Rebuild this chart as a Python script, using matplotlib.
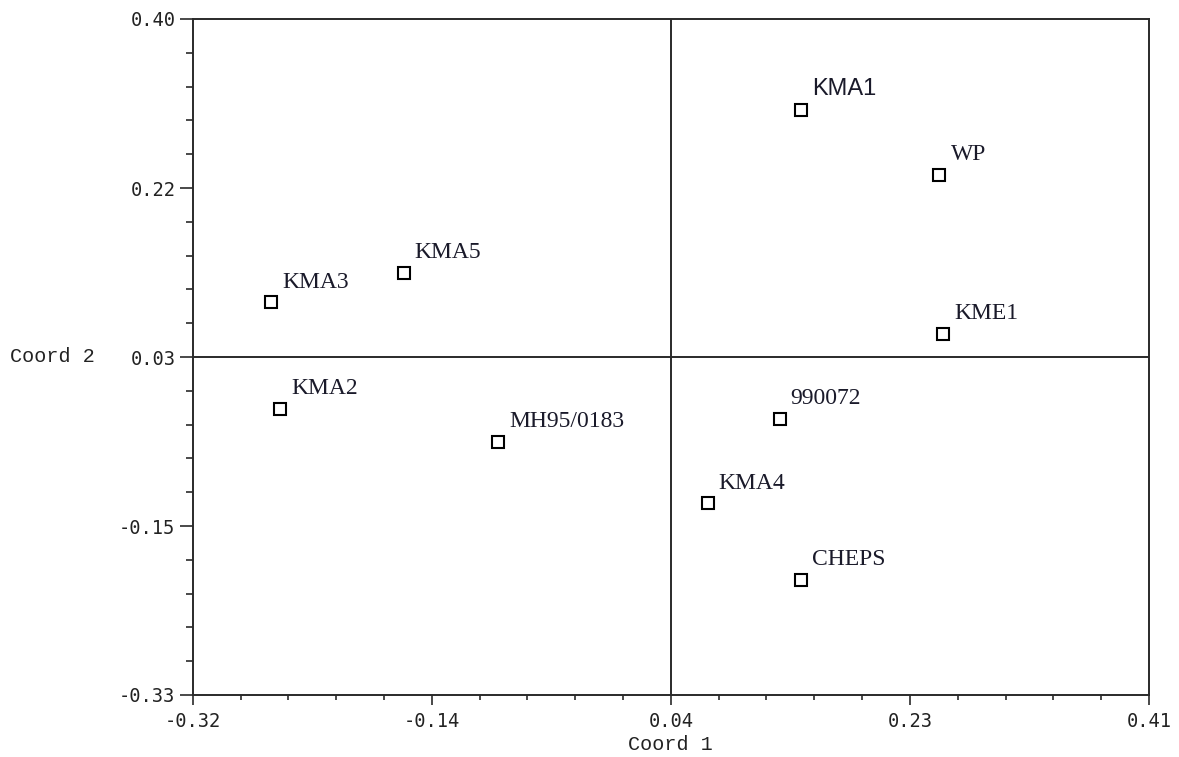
import numpy as np
import matplotlib
matplotlib.use("Agg")
import matplotlib.pyplot as plt
from matplotlib.ticker import FixedLocator, FixedFormatter

names = ["KMA1", "WP", "KME1", "KMA5", "KMA3", "KMA2", "MH95/0183", "990072", "KMA4", "CHEPS"]
coord1 = [0.144, 0.250, 0.253, -0.159, -0.260, -0.253, -0.087, 0.128, 0.073, 0.144]
coord2 = [0.302, 0.232, 0.060, 0.126, 0.094, -0.021, -0.057, -0.032, -0.123, -0.206]

x_ticklabels = ["-0.32", "-0.14", "0.04", "0.23", "0.41"]
y_ticklabels = ["-0.33", "-0.15", "0.03", "0.22", "0.40"]
xmin, xmax = -0.32, 0.41
ymin, ymax = -0.33, 0.40

fig = plt.figure(figsize=(11.79, 7.57), dpi=100)
ax = fig.add_axes([192.7 / 1179, 1 - 695 / 757, (1149 - 192.7) / 1179, (695 - 19) / 757])

ax.set_xlim(xmin, xmax)
ax.set_ylim(ymin, ymax)

xt = np.linspace(xmin, xmax, 5)
yt = np.linspace(ymin, ymax, 5)
ax.xaxis.set_major_locator(FixedLocator(xt))
ax.xaxis.set_major_formatter(FixedFormatter(x_ticklabels))
ax.yaxis.set_major_locator(FixedLocator(yt))
ax.yaxis.set_major_formatter(FixedFormatter(y_ticklabels))
ax.xaxis.set_minor_locator(FixedLocator(np.linspace(xmin, xmax, 21)))
ax.yaxis.set_minor_locator(FixedLocator(np.linspace(ymin, ymax, 21)))

edge = "#2a2a2a"
for s in ax.spines.values():
    s.set_linewidth(1.4)
    s.set_color(edge)

ax.tick_params(axis="x", which="major", direction="out", length=7.2, width=1.2, color=edge, pad=5)
ax.tick_params(axis="x", which="minor", direction="out", length=3.6, width=1.2, color=edge)
ax.tick_params(axis="y", which="major", direction="out", length=9.4, width=1.2, color=edge, pad=3)
ax.tick_params(axis="y", which="minor", direction="out", length=5.0, width=1.2, color=edge)
for lab in ax.get_xticklabels() + ax.get_yticklabels():
    lab.set_fontfamily("DejaVu Sans Mono")
    lab.set_fontsize(13.5)
    lab.set_color("#222222")

ax.axvline((xmin + xmax) / 2, color=edge, lw=1.4)
ax.axhline((ymin + ymax) / 2, color=edge, lw=1.4)

ax.plot(coord1, coord2, linestyle="none", marker="s", markersize=8.5,
        markerfacecolor="white", markeredgecolor="black", markeredgewidth=1.5, zorder=3)

for n, x, y in zip(names, coord1, coord2):
    fam = "Liberation Sans" if n == "KMA1" else "Liberation Serif"
    ax.annotate(n, (x, y), xytext=(8, 7), textcoords="offset points",
                fontsize=17, family=fam, color="#1a1a2a", ha="left", va="bottom")

fig.text(670 / 1179, 1 - 745 / 757, "Coord 1", ha="center", va="center",
         family="Liberation Mono", fontsize=14.5, color="#222222")
fig.text(10 / 1179, 1 - 357 / 757, "Coord 2", ha="left", va="center",
         family="Liberation Mono", fontsize=14.5, color="#222222")

fig.savefig("out.png", dpi=100)
